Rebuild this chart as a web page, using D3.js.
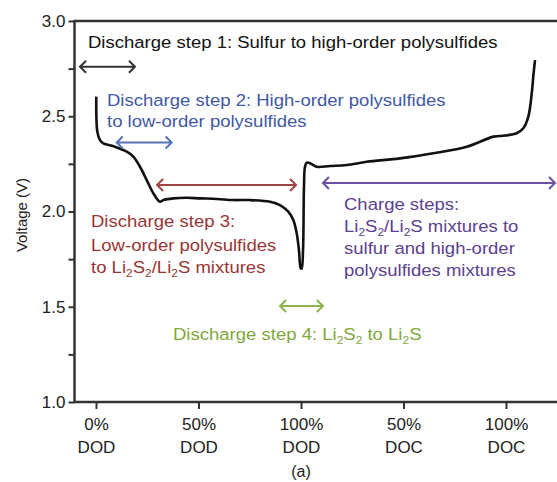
<!DOCTYPE html>
<html>
<head>
<meta charset="utf-8">
<script src="https://cdnjs.cloudflare.com/ajax/libs/d3/7.8.5/d3.min.js"></script>
<style>
  body { margin: 0; background: #fff; }
  svg { display: block; font-family: "Liberation Sans", Arial, sans-serif; }
  .axis text { font-size: 16px; fill: #222; }
  .axis line { stroke: #333; stroke-width: 2; }
</style>
</head>
<body>
<div id="chart"></div>
<script>
// discharge curve: depth of discharge (%) vs voltage (V)
let dischargePct = [0.15, 0.65, 1.95, 3.55, 9.25, 15, 18.2, 21.45, 24.75, 27.95, 31.2, 32.85, 37.7, 44.25, 50.75, 58.9, 67, 75.1, 84.9, 89.75, 93.8, 96.25, 97.9, 99, 99.85];
let dischargeV = [2.603, 2.419, 2.375, 2.358, 2.340, 2.314, 2.288, 2.235, 2.165, 2.096, 2.051, 2.060, 2.069, 2.072, 2.069, 2.066, 2.060, 2.060, 2.051, 2.034, 1.999, 1.955, 1.886, 1.798, 1.702];
// charge curve: depth of charge (%) vs voltage (V)
let chargePct = [0.3, 1.0, 1.45, 1.95, 2.8, 4.4, 7.65, 14.15, 22.3, 32.05, 48.3, 64.55, 80.85, 93.8, 97.05, 105.2, 108.45, 110.9, 112.55, 113.3, 114.15];
let chargeV = [1.70, 1.80, 2.130, 2.235, 2.256, 2.253, 2.235, 2.239, 2.244, 2.261, 2.279, 2.306, 2.340, 2.393, 2.396, 2.411, 2.437, 2.498, 2.620, 2.708, 2.795];

let xTicks = [0, 50, 100, 150, 200];
let xTickTop = ['0%', '50%', '100%', '50%', '100%'];
let xTickBottom = ['DOD', 'DOD', 'DOD', 'DOC', 'DOC'];
let yTicks = [1, 1.25, 1.5, 1.75, 2, 2.25, 2.5, 2.75, 3];

// step arrows (x in %, y in V)
let arrowFrom = [-7.8, 10.1, 29.8, 110.7, 89.8];
let arrowTo = [19.0, 36.9, 97.6, 223.9, 110.7];
let arrowV = [2.76, 2.362, 2.139, 2.150, 1.504];
let arrowColors = ['#333', '#5573b8', '#a24444', '#6a52a0', '#8ab54a'];

let W = 557, H = 482;
let svg = d3.select('#chart').append('svg').attr('width', W).attr('height', H);

let x = d3.scaleLinear().domain([0, 200]).range([96, 506]);
let y = d3.scaleLinear().domain([1, 3]).range([402, 21]);

// y axis
svg.append('g').attr('class', 'axis')
  .attr('transform', 'translate(74.5,0)')
  .call(d3.axisLeft(y).tickValues(yTicks).tickSize(6).tickPadding(3)
    .tickFormat(d => d.toFixed(1)))
  .call(g => g.select('.domain').remove())
  .call(g => g.selectAll('.tick text').filter(d => (d * 2) % 1 !== 0).remove())
  .selectAll('text').style('font-size', '17px');

// x axis
let xa = svg.append('g').attr('class', 'axis')
  .attr('transform', 'translate(0,402)')
  .call(d3.axisBottom(x).tickValues(xTicks).tickSize(7))
  .call(g => g.select('.domain').remove())
  .call(g => g.selectAll('.tick text').remove());
xa.selectAll('.tick').append('text')
  .attr('y', 28).attr('text-anchor', 'middle').style('font-size', '17px')
  .text((d, i) => xTickTop[i]);
xa.selectAll('.tick').append('text')
  .attr('y', 51).attr('text-anchor', 'middle').style('font-size', '17px')
  .text((d, i) => xTickBottom[i]);

// frame
svg.append('path')
  .attr('d', 'M' + W + ',21H74.5V402H' + W)
  .attr('fill', 'none').attr('stroke', '#333').attr('stroke-width', 2.5);

svg.append('text').attr('transform', 'translate(27,' + 215 + ') rotate(-90)')
  .attr('text-anchor', 'middle').style('font-size', '15px').attr('fill', '#222')
  .text('Voltage (V)');

svg.append('text').attr('x', x(100)).attr('y', 477).attr('text-anchor', 'middle')
  .style('font-size', '16px').attr('fill', '#222').text('(a)');

// curve
let dis = dischargePct.map((p, i) => [p, dischargeV[i]]);
let chg = chargePct.map((p, i) => [100 + p, chargeV[i]]);
svg.append('path')
  .attr('d', d3.line().x(d => x(d[0])).y(d => y(d[1])).curve(d3.curveCatmullRom.alpha(0.5))(dis.concat(chg)))
  .attr('fill', 'none').attr('stroke', '#111').attr('stroke-width', 2.6)
  .attr('stroke-linejoin', 'round');

// arrows
arrowFrom.forEach((a, i) => {
  let x1 = x(a), x2 = x(arrowTo[i]), yy = y(arrowV[i]), h = 6;
  svg.append('path')
    .attr('d', 'M' + x1 + ',' + yy + 'H' + x2 +
      'M' + (x1 + h) + ',' + (yy - h) + 'L' + x1 + ',' + yy + 'L' + (x1 + h) + ',' + (yy + h) +
      'M' + (x2 - h) + ',' + (yy - h) + 'L' + x2 + ',' + yy + 'L' + (x2 - h) + ',' + (yy + h))
    .attr('fill', 'none').attr('stroke', arrowColors[i]).attr('stroke-width', 2)
    .attr('stroke-linejoin', 'miter');
});

// labels; _2 marks a subscript. The source lettering is a bit wide, so stretch x.
function label(lines, x0, ys, color) {
  lines.forEach((s, i) => {
    let t = svg.append('text')
      .attr('transform', 'translate(' + x0 + ',' + ys[i] + ') scale(1.09,1)')
      .attr('fill', color).style('font-size', '17px');
    let shift = 0;
    s.split(/(_\d)/).filter(p => p !== '').forEach(p => {
      let sub = p[0] === '_';
      let want = sub ? 4 : 0;
      t.append('tspan').attr('dy', want - shift)
        .style('font-size', sub ? '11px' : null)
        .text(sub ? p.slice(1) : p);
      shift = want;
    });
  });
}
label(['Discharge step 1: Sulfur to high-order polysulfides'], 88, [47.5], '#111');
label(['Discharge step 2: High-order polysulfides', 'to low-order polysulfides'], 107, [106, 127], '#3f58a6');
label(['Discharge step 3:', 'Low-order polysulfides', 'to Li_2S_2/Li_2S mixtures'], 91, [226.5, 250.5, 272.5], '#983636');
label(['Charge steps:', 'Li_2S_2/Li_2S mixtures to', 'sulfur and high-order', 'polysulfides mixtures'], 344, [210, 232, 254, 276], '#5b4190');
label(['Discharge step 4: Li_2S_2 to Li_2S'], 173, [340], '#7fa83e');
</script>
</body>
</html>
